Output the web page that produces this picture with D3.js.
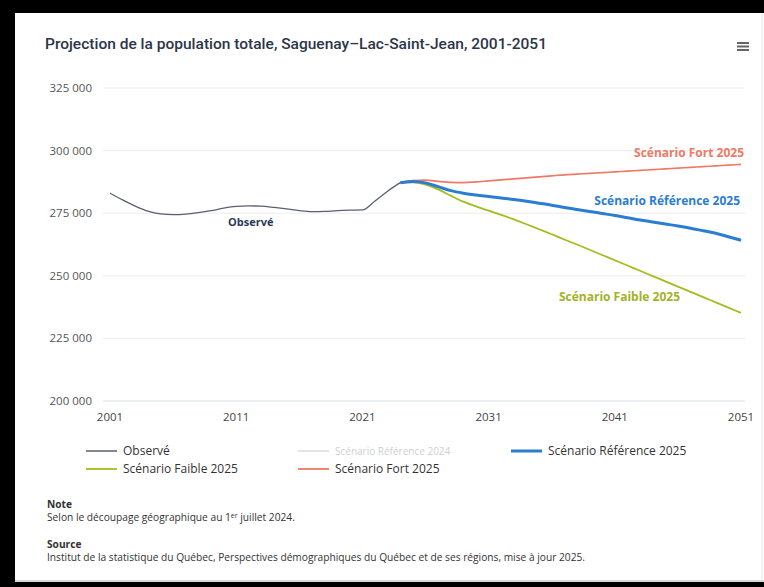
<!DOCTYPE html>
<meta charset="utf-8">
<style>
    body { margin: 0; background: #000; }
    svg { display: block; }
    text { font-family: "Open Sans", sans-serif; }
</style>
<body>
<script src="https://d3js.org/d3.v7.min.js"></script>
<script>
    // observed population, 2001-2024
    const obsYears = d3.range(2001, 2025)
    const obsValues = [283000, 280300, 277800, 275800, 274700, 274400, 274600, 275200, 276000, 277000,
        277700, 277900, 277800, 277300, 276700, 276000, 275600, 275700, 276000, 276200,
        276300, 279900, 283800, 287200]

    // scenarios, 2024-2051
    const projYears = d3.range(2024, 2052)
    const fortValues = [287200, 288000, 288200, 287700, 287300, 287200, 287500, 287900, 288300, 288700,
        289100, 289500, 289900, 290300, 290600, 290900, 291200, 291500, 291800, 292100,
        292400, 292700, 293000, 293300, 293600, 293900, 294200, 294500]
    const refValues = [287200, 287700, 287100, 285600, 284000, 283000, 282300, 281700, 281100, 280500,
        279800, 279000, 278200, 277300, 276500, 275700, 274900, 274100, 273200, 272300,
        271500, 270700, 269900, 269000, 268000, 267000, 265600, 264200]
    const faibleValues = [287200, 287300, 286400, 284500, 282000, 279600, 277700, 276000, 274300, 272500,
        270600, 268600, 266600, 264500, 262500, 260400, 258300, 256200, 254100, 252000,
        249900, 247800, 245700, 243600, 241500, 239400, 237300, 235200]

    const yTicks = [200000, 225000, 250000, 275000, 300000, 325000]
    const xTicks = [2001, 2011, 2021, 2031, 2041, 2051]

    const series = [
        {name: "Observé", years: obsYears, values: obsValues, color: "#59606f", width: 1.3},
        {name: "Scénario Fort 2025", years: projYears, values: fortValues, color: "#ee7a66", width: 1.6},
        {name: "Scénario Faible 2025", years: projYears, values: faibleValues, color: "#a3bd1e", width: 1.8},
        {name: "Scénario Référence 2025", years: projYears, values: refValues, color: "#2a7dd1", width: 3}
    ]

    const W = 764, H = 587
    const svg = d3.select("body").append("svg").attr("width", W).attr("height", H)

    // card
    svg.append("rect").attr("x", 15).attr("y", 13).attr("width", W - 15).attr("height", 569).attr("fill", "#fff")
    svg.append("line").attr("x1", 762).attr("x2", 762).attr("y1", 13).attr("y2", 582).attr("stroke", "#e4e4e4")
    svg.append("rect").attr("x", 15).attr("y", 580).attr("width", W - 15).attr("height", 2).attr("fill", "#d9d9d9")

    svg.append("text")
        .attr("x", 45).attr("y", 49)
        .style("font-family", "Roboto, sans-serif")
        .style("font-weight", 500)
        .style("font-size", "15.5px")
        .attr("textLength", 502)
        .attr("lengthAdjust", "spacingAndGlyphs")
        .attr("fill", "#2b3648")
        .text("Projection de la population totale, Saguenay–Lac-Saint-Jean, 2001-2051")

    // menu icon
    svg.append("g").selectAll("rect").data([0, 1, 2]).join("rect")
        .attr("x", 737).attr("y", d => 42 + d * 3.5).attr("width", 12).attr("height", 2)
        .attr("fill", "#666")

    const x = d3.scaleLinear().domain([2001, 2051]).range([110, 741])
    const y = d3.scaleLinear().domain([200000, 325000]).range([401, 88])

    // grid
    svg.append("g").selectAll("line").data(yTicks).join("line")
        .attr("x1", 103).attr("x2", 745)
        .attr("y1", d => y(d)).attr("y2", d => y(d))
        .attr("stroke", d => d === 200000 ? "#d8dde6" : "#ececec")

    svg.append("g").selectAll("text").data(yTicks).join("text")
        .attr("x", 92).attr("y", d => y(d) + 4)
        .attr("text-anchor", "end")
        .style("font-size", "11.5px")
        .attr("fill", "#555")
        .text(d => d3.format(",")(d).replace(",", " "))

    svg.append("g").selectAll("text").data(xTicks).join("text")
        .attr("x", d => x(d)).attr("y", 421)
        .attr("text-anchor", "middle")
        .style("font-size", "11.5px")
        .attr("fill", "#444")
        .text(d => d)

    const line = d3.line().curve(d3.curveMonotoneX)

    series.forEach(s => {
        svg.append("path")
            .attr("d", line(s.years.map((yr, i) => [x(yr), y(s.values[i])])))
            .attr("fill", "none")
            .attr("stroke", s.color)
            .attr("stroke-width", s.width)
            .attr("stroke-linejoin", "round")
    })

    // inline series labels
    const labels = [
        {text: "Observé", x: 228, y: 226, anchor: "start", color: "#2b3a55"},
        {text: "Scénario Fort 2025", x: 744, y: 157, anchor: "end", color: "#ee7a66"},
        {text: "Scénario Référence 2025", x: 740, y: 205, anchor: "end", color: "#2a7dd1"},
        {text: "Scénario Faible 2025", x: 680, y: 301, anchor: "end", color: "#a3b227"}
    ]
    svg.append("g").selectAll("text").data(labels).join("text")
        .attr("x", d => d.x).attr("y", d => d.y)
        .attr("text-anchor", d => d.anchor)
        .style("font-size", d => d.text === "Observé" ? "11px" : "12px")
        .style("font-weight", 700)
        .attr("fill", d => d.color)
        .text(d => d.text)

    // legend
    const legend = [
        {text: "Observé", color: "#59606f", lx: 86, ly: 451, w: 1.5},
        {text: "Scénario Référence 2024", color: "#dadada", lx: 298, ly: 451, w: 1.5, faded: true},
        {text: "Scénario Référence 2025", color: "#2a7dd1", lx: 511, ly: 451, w: 3},
        {text: "Scénario Faible 2025", color: "#a3bd1e", lx: 86, ly: 469, w: 1.8},
        {text: "Scénario Fort 2025", color: "#ee7a66", lx: 298, ly: 469, w: 1.8}
    ]
    const lg = svg.append("g").selectAll("g").data(legend).join("g")
    lg.append("line")
        .attr("x1", d => d.lx).attr("x2", d => d.lx + 31)
        .attr("y1", d => d.ly).attr("y2", d => d.ly)
        .attr("stroke", d => d.color).attr("stroke-width", d => d.w)
    lg.append("text")
        .attr("x", d => d.lx + 37).attr("y", d => d.ly + 4)
        .style("font-size", d => d.faded ? "10px" : "12px")
        .attr("fill", d => d.faded ? "#d0d0d0" : "#333")
        .text(d => d.text)

    // notes
    const notes = svg.append("g").style("font-size", "10.2px").attr("fill", "#333")
    notes.append("text").attr("x", 47).attr("y", 508).style("font-weight", 700).text("Note")
    const sel = notes.append("text").attr("x", 47).attr("y", 521)
    sel.append("tspan").text("Selon le découpage géographique au 1")
    sel.append("tspan").attr("dy", -3).style("font-size", "7px").text("er")
    sel.append("tspan").attr("dy", 3).text(" juillet 2024.")
    notes.append("text").attr("x", 47).attr("y", 548).style("font-weight", 700).text("Source")
    notes.append("text").attr("x", 47).attr("y", 561)
        .text("Institut de la statistique du Québec, Perspectives démographiques du Québec et de ses régions, mise à jour 2025.")
</script>
</body>
